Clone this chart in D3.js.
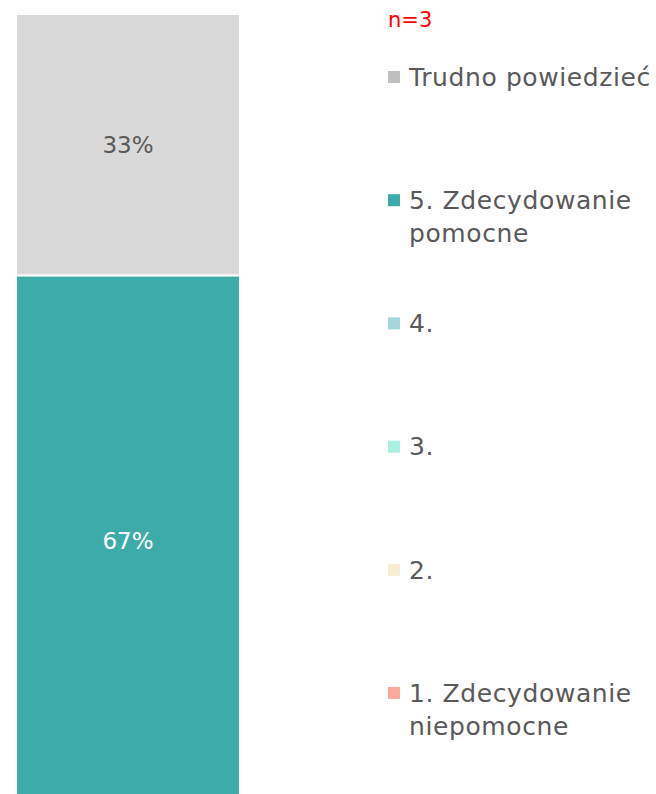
<!DOCTYPE html>
<html>
<head>
<meta charset="utf-8">
<script src="https://cdn.jsdelivr.net/npm/d3@7"></script>
<style>
  body { margin: 0; background: #fff; }
  svg { display: block; font-family: "DejaVu Sans", sans-serif; }
</style>
</head>
<body>
<div id="chart"></div>
<script>
// data
const categories = ["all"];
const seriesKeys = ["1. Zdecydowanie niepomocne", "2.", "3.", "4.", "5. Zdecydowanie pomocne", "Trudno powiedzieć"];
const seriesValues = [0, 0, 0, 0, 0.67, 0.33];
const seriesColors = ["#fca89e", "#f8eed2", "#a9f0e1", "#a6d6dc", "#3cabaa", "#d9d9d9"];
const legendMarkerColors = ["#fca89e", "#f8eed2", "#a9f0e1", "#a6d6dc", "#3cabaa", "#bfbfbf"];
const legendLines = [["Trudno powiedzieć"], ["5. Zdecydowanie", "pomocne"], ["4."], ["3."], ["2."], ["1. Zdecydowanie", "niepomocne"]];
const sampleNote = "n=3";

const width = 656, height = 794;

const svg = d3.select("#chart").append("svg")
  .attr("width", width)
  .attr("height", height);

const row = {cat: categories[0]};
seriesKeys.forEach((k, i) => row[k] = seriesValues[i]);

const stacked = d3.stack().keys(seriesKeys)([row]);

const x = d3.scaleBand().domain(categories).range([16, 240]).padding(0);
const y = d3.scaleLinear().domain([0, 1]).range([806, 14]);
const color = d3.scaleOrdinal().domain(seriesKeys).range(seriesColors);

// bars
const layers = svg.selectAll("g.layer")
  .data(stacked)
  .join("g")
    .attr("class", "layer")
    .attr("fill", d => color(d.key));

layers.selectAll("rect")
  .data(d => d.filter(s => s[1] - s[0] > 0))
  .join("rect")
    .attr("x", x(categories[0]))
    .attr("width", x.bandwidth())
    .attr("y", d => y(d[1]))
    .attr("height", d => y(d[0]) - y(d[1]))
    .attr("stroke", "#fff")
    .attr("stroke-width", 2);

// value labels
stacked.forEach((layer, i) => {
  const s = layer[0];
  if (s[1] - s[0] <= 0) return;
  svg.append("text")
    .attr("x", x(categories[0]) + x.bandwidth() / 2)
    .attr("y", (y(s[0]) + y(s[1])) / 2)
    .attr("dy", "0.35em")
    .attr("text-anchor", "middle")
    .style("font-size", "23px")
    .style("fill", layer.key === "5. Zdecydowanie pomocne" ? "#fff" : "#595959")
    .text(Math.round(seriesValues[i] * 100) + "%");
});

// n note
svg.append("text")
  .attr("x", 388)
  .attr("y", 20)
  .attr("dy", "0.35em")
  .style("font-size", "21px")
  .style("fill", "#ff0000")
  .text(sampleNote);

// legend (top to bottom: reverse of stack order)
const legendY = d3.scaleLinear().domain([0, 5]).range([77, 693]);
const legendKeys = seriesKeys.slice().reverse();
const legendCols = legendMarkerColors.slice().reverse();

const legend = svg.selectAll("g.legend")
  .data(legendKeys)
  .join("g")
    .attr("class", "legend")
    .attr("transform", (d, i) => `translate(388,${legendY(i)})`);

legend.append("rect")
  .attr("x", 0)
  .attr("y", -6)
  .attr("width", 12)
  .attr("height", 12)
  .attr("fill", (d, i) => legendCols[i]);

legend.append("text")
  .attr("x", 21)
  .style("font-size", "25px")
  .style("letter-spacing", "0.6px")
  .style("fill", "#595959")
  .selectAll("tspan")
  .data((d, i) => legendLines[i])
  .join("tspan")
    .attr("x", 21)
    .attr("y", (d, j) => j * 33)
    .attr("dy", "0.35em")
    .text(d => d);
</script>
</body>
</html>
